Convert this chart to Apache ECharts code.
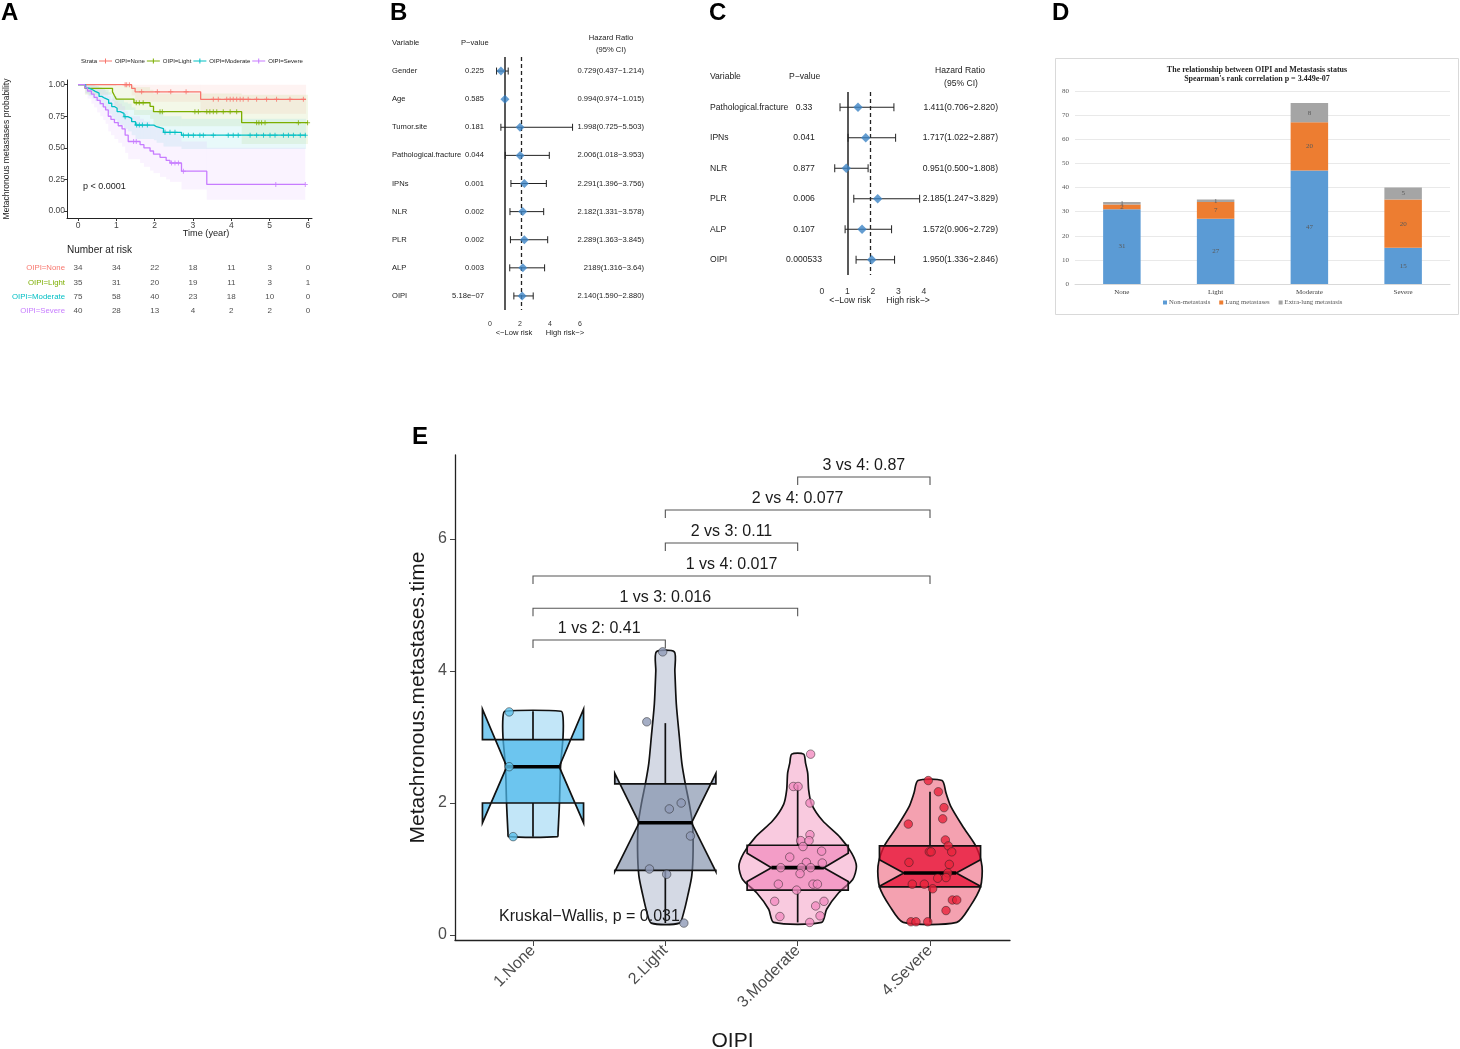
<!DOCTYPE html>
<html><head><meta charset="utf-8">
<script src="https://cdn.jsdelivr.net/npm/echarts@6/dist/echarts.min.js"></script>
<style>html,body{margin:0;padding:0;background:#fff}#c{width:1460px;height:1049px}</style>
</head><body><div id="c"></div>
<script>
// ================= DATA =================
// ---- Panel A: Kaplan-Meier ----
const strata = ['OIPI=None', 'OIPI=Light', 'OIPI=Moderate', 'OIPI=Severe'];
const kmNoneT = [0, 1.40, 1.49, 3.20, 5.95];
const kmNoneS = [1.00, 0.971, 0.943, 0.884, 0.884];
const kmNoneLo = [1.00, 0.915, 0.865, 0.77];
const kmNoneHi = [1.00, 1.00, 1.00, 1.00];
const kmNoneCens = [1.23, 1.27, 1.34, 1.66, 2.07, 2.42, 2.82, 3.53, 3.66, 3.88, 3.97, 4.05, 4.14, 4.23, 4.31, 4.44, 4.66, 4.92, 5.18, 5.53, 5.88];

const kmLightT = [0, 0.18, 0.90, 0.95, 1.00, 1.46, 1.88, 1.97, 4.27, 6.00];
const kmLightS = [1.00, 0.971, 0.943, 0.914, 0.886, 0.857, 0.829, 0.786, 0.699, 0.699];
const kmLightLo = [1.00, 0.92, 0.87, 0.83, 0.80, 0.76, 0.73, 0.67, 0.53];
const kmLightHi = [1.00, 1.00, 1.00, 1.00, 0.99, 0.98, 0.96, 0.93, 0.92];
const kmLightCens = [1.52, 1.60, 1.70, 2.14, 2.20, 3.05, 3.14, 3.36, 3.44, 3.53, 3.62, 3.79, 3.97, 4.14, 4.66, 4.72, 4.79, 4.88, 5.75, 5.99];

const kmModT = [0, 0.20, 0.28, 0.38, 0.45, 0.55, 0.62, 0.70, 0.80, 0.88, 0.95, 1.02, 1.10, 1.20, 1.30, 1.40, 1.50, 1.98, 2.05, 2.23, 2.70, 5.95];
const kmModS = [1.00, 0.973, 0.960, 0.947, 0.933, 0.907, 0.893, 0.880, 0.853, 0.827, 0.813, 0.787, 0.773, 0.747, 0.733, 0.707, 0.680, 0.667, 0.653, 0.623, 0.600, 0.600];
const kmModLo = [1.00, 0.93, 0.91, 0.89, 0.87, 0.84, 0.82, 0.80, 0.77, 0.74, 0.72, 0.69, 0.68, 0.65, 0.63, 0.60, 0.57, 0.56, 0.54, 0.51, 0.49];
const kmModHi = [1.00, 1.00, 1.00, 1.00, 0.99, 0.98, 0.97, 0.96, 0.94, 0.92, 0.91, 0.89, 0.88, 0.86, 0.85, 0.82, 0.80, 0.79, 0.78, 0.75, 0.73];
const kmModCens = [1.23, 1.53, 1.60, 1.68, 1.81, 2.27, 2.40, 2.53, 2.75, 2.88, 3.01, 3.18, 3.27, 3.53, 3.92, 4.05, 4.18, 4.49, 4.66, 4.84, 5.01, 5.14, 5.36, 5.49, 5.62, 5.80, 5.93];

const kmSevT = [0, 0.18, 0.25, 0.35, 0.42, 0.50, 0.58, 0.66, 0.72, 0.79, 0.86, 0.95, 1.05, 1.15, 1.23, 1.31, 1.62, 1.72, 1.88, 1.97, 2.14, 2.30, 2.40, 2.70, 3.36, 5.93];
const kmSevS = [1.00, 0.975, 0.950, 0.925, 0.900, 0.875, 0.850, 0.825, 0.800, 0.750, 0.725, 0.700, 0.675, 0.650, 0.600, 0.550, 0.525, 0.500, 0.475, 0.450, 0.425, 0.400, 0.380, 0.315, 0.210, 0.210];
const kmSevLo = [1.00, 0.93, 0.89, 0.85, 0.82, 0.78, 0.75, 0.72, 0.69, 0.63, 0.60, 0.57, 0.54, 0.51, 0.46, 0.41, 0.38, 0.35, 0.32, 0.30, 0.27, 0.25, 0.23, 0.17, 0.09];
const kmSevHi = [1.00, 1.00, 1.00, 1.00, 0.99, 0.98, 0.97, 0.96, 0.94, 0.91, 0.89, 0.87, 0.85, 0.83, 0.79, 0.75, 0.73, 0.71, 0.69, 0.67, 0.65, 0.63, 0.61, 0.55, 0.50];
const kmSevCens = [1.45, 1.52, 2.44, 2.53, 2.62, 2.75, 5.16, 5.93];

const kmTicksX = [0, 1, 2, 3, 4, 5, 6];
const kmTicksY = [0, 0.25, 0.5, 0.75, 1];

const riskTimes = [0, 1, 2, 3, 4, 5, 6];
const riskNone = [34, 34, 22, 18, 11, 3, 0];
const riskLight = [35, 31, 20, 19, 11, 3, 1];
const riskModerate = [75, 58, 40, 23, 18, 10, 0];
const riskSevere = [40, 28, 13, 4, 2, 2, 0];

// ---- Panel B: univariate forest ----
const bVars = ['Gender', 'Age', 'Tumor.site', 'Pathological.fracture', 'IPNs', 'NLR', 'PLR', 'ALP', 'OIPI'];
const bP = ['0.225', '0.585', '0.181', '0.044', '0.001', '0.002', '0.002', '0.003', '5.18e\u221207'];
const bHR = [0.729, 0.994, 1.998, 2.006, 2.291, 2.182, 2.289, 2.189, 2.140];
const bLo = [0.437, 0.974, 0.725, 1.018, 1.396, 1.331, 1.363, 1.316, 1.590];
const bHi = [1.214, 1.015, 5.503, 3.953, 3.756, 3.578, 3.845, 3.640, 2.880];
const bHRtext = ['0.729(0.437~1.214)', '0.994(0.974~1.015)', '1.998(0.725~5.503)', '2.006(1.018~3.953)', '2.291(1.396~3.756)', '2.182(1.331~3.578)', '2.289(1.363~3.845)', '2189(1.316~3.64)', '2.140(1.590~2.880)'];
const bTicks = [0, 2, 4, 6];
const bRef = 1, bMean = 2.1;

// ---- Panel C: multivariate forest ----
const cVars = ['Pathological.fracture', 'IPNs', 'NLR', 'PLR', 'ALP', 'OIPI'];
const cP = ['0.33', '0.041', '0.877', '0.006', '0.107', '0.000533'];
const cHR = [1.411, 1.717, 0.951, 2.185, 1.572, 1.950];
const cLo = [0.706, 1.022, 0.500, 1.247, 0.906, 1.336];
const cHi = [2.820, 2.887, 1.808, 3.829, 2.729, 2.846];
const cHRtext = ['1.411(0.706~2.820)', '1.717(1.022~2.887)', '0.951(0.500~1.808)', '2.185(1.247~3.829)', '1.572(0.906~2.729)', '1.950(1.336~2.846)'];
const cTicks = [0, 1, 2, 3, 4];
const cRef = 1, cMean = 1.88;

// ---- Panel D: stacked bars ----
const dCats = ['None', 'Light', 'Moderate', 'Severe'];
const dNon = [31, 27, 47, 15];
const dLung = [2, 7, 20, 20];
const dExtra = [1, 1, 8, 5];

// ---- Panel E: violin + notched box ----
const eCats = ['1.None', '2.Light', '3.Moderate', '4.Severe'];
const eTicksY = [0, 2, 4, 6];
// violin outline: levels (top->bottom) and half widths (x-axis units)
const vioY1 = [3.39, 3.30, 3.00, 2.55, 2.00, 1.70, 1.55, 1.49];
const vioW1 = [0.212, 0.227, 0.227, 0.208, 0.200, 0.193, 0.189, 0.185];
const vioY2 = [4.29, 4.00, 3.50, 3.00, 2.60, 2.30, 2.00, 1.70, 1.30, 0.90, 0.60, 0.35, 0.18];
const vioW2 = [0.068, 0.072, 0.083, 0.106, 0.125, 0.150, 0.180, 0.204, 0.210, 0.200, 0.170, 0.140, 0.106];
const vioY3 = [2.74, 2.60, 2.45, 2.20, 1.98, 1.73, 1.48, 1.24, 1.04, 0.84, 0.64, 0.39, 0.19];
const vioW3 = [0.045, 0.060, 0.076, 0.083, 0.106, 0.189, 0.321, 0.408, 0.444, 0.416, 0.310, 0.219, 0.181];
const vioY4 = [2.34, 2.15, 1.94, 1.64, 1.34, 1.04, 0.73, 0.43, 0.19];
const vioW4 = [0.091, 0.121, 0.159, 0.249, 0.348, 0.393, 0.382, 0.302, 0.202];
// box statistics
const boxQ1 = [2.00, 0.98, 0.68, 0.73];
const boxMed = [2.55, 1.70, 1.02, 0.94];
const boxQ3 = [2.96, 2.29, 1.36, 1.35];
const notchLo = [1.70, 0.96, 0.81, 0.74];
const notchHi = [3.42, 2.45, 1.24, 1.14];
const whiskLo = [1.49, 0.18, 0.19, 0.19];
const whiskHi = [3.39, 3.21, 2.27, 2.17];
// observations: jitter offset (x units) and value
const ptsJ1 = [-0.18, -0.18, -0.15];
const ptsV1 = [3.38, 2.55, 1.49];
const ptsJ2 = [-0.02, -0.14, 0.03, 0.12, 0.19, -0.12, 0.01, 0.14];
const ptsV2 = [4.29, 3.23, 1.91, 2.00, 1.50, 1.00, 0.92, 0.18];
const ptsJ3 = [0.098, -0.033, 0.003, 0.093, 0.093, 0.023, 0.086, 0.040, 0.181, -0.060, 0.066, 0.186, -0.128, 0.028, 0.098, 0.018, -0.146, 0.116, 0.149, -0.008, -0.174, 0.199, 0.136, -0.134, 0.169, 0.091];
const ptsV3 = [2.74, 2.25, 2.25, 2.00, 1.52, 1.43, 1.43, 1.34, 1.27, 1.18, 1.10, 1.09, 1.02, 1.02, 1.02, 0.93, 0.77, 0.77, 0.77, 0.68, 0.51, 0.51, 0.44, 0.28, 0.29, 0.19];
const ptsJ4 = [-0.013, 0.063, 0.106, 0.096, -0.164, 0.116, 0.138, -0.005, 0.008, 0.164, -0.159, 0.146, 0.134, 0.121, 0.058, -0.134, -0.043, 0.020, 0.169, 0.202, 0.121, -0.144, -0.106, -0.017];
const ptsV4 = [2.34, 2.17, 1.93, 1.76, 1.68, 1.44, 1.35, 1.26, 1.26, 1.26, 1.10, 1.07, 0.94, 0.87, 0.86, 0.77, 0.77, 0.70, 0.53, 0.53, 0.37, 0.20, 0.20, 0.20];
// pairwise comparisons
const cmpA = [1, 1, 1, 2, 2, 3];
const cmpB = [2, 3, 4, 3, 4, 4];
const cmpP = ['0.41', '0.016', '0.017', '0.11', '0.077', '0.87'];
const cmpY = [4.47, 4.95, 5.44, 5.94, 6.44, 6.94];

// ================= STYLE =================
const FONT = "'Liberation Sans', Arial, sans-serif";
const SERIF = "'Liberation Serif', 'Times New Roman', serif";
const KM_COL = ['#F8766D', '#7CAE00', '#00BFC4', '#C77CFF'];
const KM_BAND = ['rgba(248,118,109,0.09)', 'rgba(124,174,0,0.09)', 'rgba(0,191,196,0.09)', 'rgba(199,124,255,0.09)'];
const VIO_FILL = ['#C2E6F8', '#D4D9E4', '#F9CADF', '#F4A1B0'];
const BOX_FILL = ['rgba(75,185,235,0.72)', 'rgba(120,135,165,0.62)', 'rgba(238,120,178,0.55)', 'rgba(232,20,55,0.78)'];
const PT_FILL = ['#5BC0EB', '#8E9AB6', '#F28CC0', '#E8243C'];
const BOX_HW = 0.382, NOTCH_HW = 0.198, CMP_TICK = 0.12;
const PLUS = 'path://M-0.8,-4H0.8V-0.8H4V0.8H0.8V4H-0.8V0.8H-4V-0.8H-0.8Z';
const LEG_ICON = 'path://M0,2.5H13V3.5H0Z M6,0.5H7V5.5H6Z M4.5,2.5H8.5V3.5H4.5Z';
const FB = 7.6, FC = 8.6;

const km = [
  {T: kmNoneT, S: kmNoneS, lo: kmNoneLo, hi: kmNoneHi, c: kmNoneCens},
  {T: kmLightT, S: kmLightS, lo: kmLightLo, hi: kmLightHi, c: kmLightCens},
  {T: kmModT, S: kmModS, lo: kmModLo, hi: kmModHi, c: kmModCens},
  {T: kmSevT, S: kmSevS, lo: kmSevLo, hi: kmSevHi, c: kmSevCens}
];
const risk = [riskNone, riskLight, riskModerate, riskSevere];
const vioY = [vioY1, vioY2, vioY3, vioY4];
const vioW = [vioW1, vioW2, vioW3, vioW4];
const ptsJ = [ptsJ1, ptsJ2, ptsJ3, ptsJ4];
const ptsV = [ptsV1, ptsV2, ptsV3, ptsV4];

function stepAt(T, S, t) { let v = S[0]; for (let i = 0; i < T.length; i++) if (T[i] <= t) v = S[i]; return v; }

const series = [];
// ---- A: bands, curves, censors ----
km.forEach((d, k) => {
  const bandData = [];
  for (let i = 0; i < d.T.length - 1; i++) bandData.push([d.T[i], d.T[i + 1], d.lo[i], d.hi[i]]);
  series.push({
    type: 'custom', name: 'band' + k, xAxisIndex: 0, yAxisIndex: 0, z: 1, silent: true,
    encode: {x: [0, 1], y: [2, 3]}, data: bandData,
    renderItem: (params, api) => {
      const p0 = api.coord([api.value(0), api.value(3)]);
      const p1 = api.coord([api.value(1), api.value(2)]);
      return {type: 'rect', shape: {x: p0[0], y: p0[1], width: p1[0] - p0[0], height: p1[1] - p0[1]}, style: {fill: KM_BAND[k]}};
    }
  });
});
km.forEach((d, k) => {
  series.push({
    type: 'line', name: strata[k], xAxisIndex: 0, yAxisIndex: 0, step: 'end', symbol: 'none', z: 3,
    data: d.T.map((t, i) => [t, d.S[i]]),
    lineStyle: {color: KM_COL[k], width: 1.3}, itemStyle: {color: KM_COL[k]}
  });
  series.push({
    type: 'scatter', name: 'cens' + k, xAxisIndex: 0, yAxisIndex: 0, symbol: PLUS, symbolSize: 5, z: 4,
    data: d.c.map(t => [t, stepAt(d.T, d.S, t)]), itemStyle: {color: KM_COL[k]}
  });
});
// ---- A: risk table ----
risk.forEach((r, k) => {
  series.push({
    type: 'scatter', name: 'risk' + k, xAxisIndex: 1, yAxisIndex: 1, symbolSize: 2,
    itemStyle: {color: 'transparent'},
    data: riskTimes.map((t, j) => [t, k, r[j]]),
    label: {show: true, position: 'inside', formatter: p => p.value[2], color: '#222', fontSize: 8, fontFamily: FONT}
  });
});

// ---- Forest ----
function forestSeries(xi, yi, hr, lo, hi, ref, mean, dsize, cap) {
  series.push({
    type: 'custom', name: 'ci' + xi, xAxisIndex: xi, yAxisIndex: yi, z: 3, silent: true,
    encode: {x: [0, 1], y: 2}, data: lo.map((l, i) => [l, hi[i], i]),
    renderItem: (params, api) => {
      const a = api.coord([api.value(0), api.value(2)]);
      const b = api.coord([api.value(1), api.value(2)]);
      const st = {stroke: '#222', lineWidth: 1};
      return {type: 'group', children: [
        {type: 'line', shape: {x1: a[0], y1: a[1], x2: b[0], y2: b[1]}, style: st},
        {type: 'line', shape: {x1: a[0], y1: a[1] - cap, x2: a[0], y2: a[1] + cap}, style: st},
        {type: 'line', shape: {x1: b[0], y1: b[1] - cap, x2: b[0], y2: b[1] + cap}, style: st}
      ]};
    }
  });
  series.push({
    type: 'scatter', name: 'hr' + xi, xAxisIndex: xi, yAxisIndex: yi, symbol: 'diamond', symbolSize: dsize, z: 5,
    itemStyle: {color: '#3D84C6'}, data: hr.map((h, i) => [h, i]),
    markLine: {silent: true, symbol: 'none', label: {show: false}, animation: false,
      data: [
        {xAxis: ref, lineStyle: {type: 'solid', color: '#222', width: 1.5}},
        {xAxis: mean, lineStyle: {type: [4, 3], color: '#222', width: 1.3}}
      ]}
  });
}
forestSeries(2, 2, bHR, bLo, bHi, bRef, bMean, 9, 3.5);
forestSeries(4, 3, cHR, cLo, cHi, cRef, cMean, 9.5, 4);

// ---- D: bars ----
const dLabel = {show: true, position: 'inside', color: '#595959', fontSize: 7, fontFamily: SERIF};
[['Non-metastasis', dNon, '#5B9BD5'], ['Lung metastases', dLung, '#ED7D31'], ['Extra-lung metastasis', dExtra, '#A5A5A5']].forEach(([n, v, c]) => {
  series.push({type: 'bar', name: n, xAxisIndex: 5, yAxisIndex: 4, stack: 'd', barWidth: '40%', data: v, itemStyle: {color: c}, label: dLabel});
});

// ---- E: violins + boxes ----
series.push({
  type: 'custom', name: 'violin', xAxisIndex: 6, yAxisIndex: 5, z: 2, silent: true,
  encode: {x: 0, y: 1}, data: eCats.map((c, g) => [g + 1, boxMed[g]]),
  renderItem: (params, api) => {
    const g = params.dataIndex, cx = g + 1;
    const Y = vioY[g], W = vioW[g];
    const pts = [];
    for (let i = 0; i < Y.length; i++) pts.push(api.coord([cx - W[i], Y[i]]));
    for (let i = Y.length - 1; i >= 0; i--) pts.push(api.coord([cx + W[i], Y[i]]));
    const C = v => api.coord(v);
    const q1 = boxQ1[g], md = boxMed[g], q3 = boxQ3[g], nl = notchLo[g], nu = notchHi[g];
    const L = cx - BOX_HW, R = cx + BOX_HW, nL = cx - NOTCH_HW, nR = cx + NOTCH_HW;
    const box = [C([L, q3]), C([L, nu]), C([nL, md]), C([L, nl]), C([L, q1]), C([R, q1]), C([R, nl]), C([nR, md]), C([R, nu]), C([R, q3])];
    const ln = {stroke: '#111', lineWidth: 1.7, fill: null};
    const a = C([nL, md]), b = C([nR, md]);
    const w1 = C([cx, q3]), w2 = C([cx, whiskHi[g]]), w3 = C([cx, q1]), w4 = C([cx, whiskLo[g]]);
    return {type: 'group', children: [
      {type: 'polygon', shape: {points: pts, smooth: 0.25}, style: {fill: VIO_FILL[g], stroke: '#111', lineWidth: 1.7}},
      {type: 'polygon', shape: {points: box}, style: {fill: BOX_FILL[g], stroke: '#111', lineWidth: 1.7, lineJoin: 'miter'}},
      {type: 'line', shape: {x1: w1[0], y1: w1[1], x2: w2[0], y2: w2[1]}, style: ln},
      {type: 'line', shape: {x1: w3[0], y1: w3[1], x2: w4[0], y2: w4[1]}, style: ln},
      {type: 'line', shape: {x1: a[0], y1: a[1], x2: b[0], y2: b[1]}, style: {stroke: '#000', lineWidth: 3.6}}
    ]};
  }
});
ptsV.forEach((vals, g) => {
  series.push({
    type: 'scatter', name: 'pts' + g, xAxisIndex: 6, yAxisIndex: 5, symbolSize: 8.5, z: 4,
    itemStyle: {color: PT_FILL[g], borderColor: 'rgba(30,30,30,0.75)', borderWidth: 0.8},
    data: vals.map((v, i) => [g + 1 + ptsJ[g][i], v])
  });
});
series.push({
  type: 'custom', name: 'cmp', xAxisIndex: 6, yAxisIndex: 5, z: 6, silent: true,
  encode: {x: [0, 1], y: 2}, data: cmpA.map((a, i) => [a, cmpB[i], cmpY[i]]),
  renderItem: (params, api) => {
    const i = params.dataIndex;
    const p1 = api.coord([api.value(0), api.value(2)]);
    const p2 = api.coord([api.value(1), api.value(2)]);
    const t = api.coord([api.value(0), api.value(2) - CMP_TICK]);
    return {type: 'group', children: [
      {type: 'polyline', shape: {points: [[p1[0], t[1]], p1, p2, [p2[0], t[1]]]}, style: {stroke: '#555', lineWidth: 1.1, fill: null}},
      {type: 'text', x: (p1[0] + p2[0]) / 2, y: p1[1] - 3, style: {text: cmpA[i] + ' vs ' + cmpB[i] + ': ' + cmpP[i], align: 'center', verticalAlign: 'bottom', fontSize: 16, fontFamily: FONT, fill: '#1a1a1a'}}
    ]};
  }
});

// ================= AXES =================
const noSplit = {show: false};
const xAxis = [
  {gridIndex: 0, type: 'value', min: -0.287, max: 6.105, splitLine: noSplit,
   axisLine: {onZero: false, lineStyle: {color: '#222', width: 1}},
   axisTick: {customValues: kmTicksX, length: 3, lineStyle: {color: '#333'}},
   axisLabel: {customValues: kmTicksX, fontSize: 8.5, color: '#444', margin: 3}},
  {gridIndex: 1, type: 'value', min: -0.287, max: 6.105, show: false},
  {gridIndex: 2, type: 'value', min: -6.667, max: 10.333, splitLine: noSplit,
   axisLine: {onZero: false, lineStyle: {color: '#333', width: 1.4}},
   axisTick: {customValues: bTicks, length: 5, lineStyle: {color: '#333'}},
   axisLabel: {customValues: bTicks, fontSize: 7, color: '#333', margin: 11}},
  {gridIndex: 2, type: 'value', position: 'top', min: -6.667, max: 10.333, splitLine: noSplit,
   axisLine: {onZero: false, lineStyle: {color: '#333', width: 1.4}}, axisTick: {show: false}, axisLabel: {show: false}},
  {gridIndex: 3, type: 'value', min: -4.392, max: 6.902, splitLine: noSplit,
   axisLine: {onZero: false, lineStyle: {color: '#333', width: 1.4}},
   axisTick: {customValues: cTicks, length: 6, lineStyle: {color: '#333'}},
   axisLabel: {customValues: cTicks, fontSize: FC, color: '#333', margin: 12}},
  {gridIndex: 4, type: 'category', data: dCats,
   axisLine: {lineStyle: {color: '#D9D9D9'}}, axisTick: {show: false},
   axisLabel: {fontFamily: SERIF, fontSize: 7, color: '#404040', margin: 5}},
  {gridIndex: 5, type: 'value', min: 0.4106, max: 4.6045, splitLine: noSplit,
   axisLine: {onZero: false, lineStyle: {color: '#222', width: 1.3}},
   axisTick: {customValues: [1, 2, 3, 4], length: 6, lineStyle: {color: '#444'}},
   axisLabel: {customValues: [1, 2, 3, 4], formatter: v => eCats[Math.round(v) - 1], rotate: 45, fontSize: 16, color: '#4d4d4d', margin: 8},
   name: 'OIPI', nameLocation: 'middle', nameGap: 91, nameTextStyle: {fontSize: 21, color: '#1a1a1a'}},
  {gridIndex: 3, type: 'value', position: 'top', min: -4.392, max: 6.902, splitLine: noSplit,
   axisLine: {onZero: false, lineStyle: {color: '#333', width: 1.4}}, axisTick: {show: false}, axisLabel: {show: false}}
];
const yAxis = [
  {gridIndex: 0, type: 'value', min: -0.0554, max: 1.037, splitLine: noSplit,
   axisLine: {show: true, onZero: false, lineStyle: {color: '#222', width: 1}},
   axisTick: {show: true, customValues: kmTicksY, length: 3, lineStyle: {color: '#333'}},
   axisLabel: {customValues: kmTicksY, formatter: v => v.toFixed(2), fontSize: 8.5, color: '#444', margin: 2}},
  {gridIndex: 1, type: 'category', data: strata, inverse: true,
   axisLine: {show: false}, axisTick: {show: false},
   axisLabel: {interval: 0, fontSize: 7.8, margin: 2, color: (v, i) => KM_COL[i]}},
  {gridIndex: 2, type: 'category', data: bVars, inverse: true,
   axisLine: {show: false}, axisTick: {show: false},
   axisLabel: {interval: 0, inside: true, margin: 2, fontSize: FB, color: '#222', align: 'left',
     formatter: (v, i) => '{v|' + bVars[i] + '}{p|' + bP[i] + '}{h|' + bHRtext[i] + '}',
     rich: {v: {width: 70, align: 'left'}, p: {width: 22, align: 'right'}, h: {width: 160, align: 'right'}}}},
  {gridIndex: 3, type: 'category', data: cVars, inverse: true,
   axisLine: {show: false}, axisTick: {show: false},
   axisLabel: {interval: 0, inside: true, margin: 0, fontSize: FC, color: '#222', align: 'left',
     formatter: (v, i) => '{v|' + cVars[i] + '}{p|' + cP[i] + '}{h|' + cHRtext[i] + '}',
     rich: {v: {width: 80, align: 'left'}, p: {width: 28, align: 'center'}, h: {width: 180, align: 'right'}}}},
  {gridIndex: 4, type: 'value', min: 0, max: 80, interval: 10,
   axisLine: {show: false}, axisTick: {show: false},
   axisLabel: {fontFamily: SERIF, fontSize: 7, color: '#595959', margin: 6},
   splitLine: {lineStyle: {color: '#E3E3E3', width: 0.8}}},
  {gridIndex: 5, type: 'value', min: -0.076, max: 7.273, splitLine: noSplit,
   axisLine: {show: true, onZero: false, lineStyle: {color: '#222', width: 1.3}},
   axisTick: {show: true, customValues: eTicksY, length: 5, lineStyle: {color: '#444'}},
   axisLabel: {customValues: eTicksY, fontSize: 16, color: '#4d4d4d', margin: 8},
   name: 'Metachronous.metastases.time', nameLocation: 'middle', nameGap: 26, nameTextStyle: {fontSize: 21, color: '#1a1a1a'}}
];

// ================= GRAPHIC =================
function txt(x, y, text, size, opt) {
  return Object.assign({type: 'text', x, y, z: 100, silent: true,
    style: Object.assign({text, fontSize: size, fontFamily: FONT, fill: '#222', align: 'left', verticalAlign: 'middle'}, (opt && opt.style) || {})},
    (opt && opt.el) || {});
}
const graphic = [
  txt(1, 1, 'A', 24, {style: {fontWeight: 'bold', verticalAlign: 'top', fill: '#000'}}),
  txt(390, 1, 'B', 24, {style: {fontWeight: 'bold', verticalAlign: 'top', fill: '#000'}}),
  txt(709, 1, 'C', 24, {style: {fontWeight: 'bold', verticalAlign: 'top', fill: '#000'}}),
  txt(1052, 1, 'D', 24, {style: {fontWeight: 'bold', verticalAlign: 'top', fill: '#000'}}),
  txt(412, 425, 'E', 24, {style: {fontWeight: 'bold', verticalAlign: 'top', fill: '#000'}}),
  // A
  txt(81, 61, 'Strata', 6),
  txt(7, 149, 'Metachronous metastases probability', 8.5, {style: {align: 'center'}, el: {rotation: Math.PI / 2}}),
  txt(206, 233, 'Time (year)', 9.2, {style: {align: 'center'}}),
  txt(83, 187, 'p < 0.0001', 9),
  txt(67, 250, 'Number at risk', 10),
  // B
  txt(392, 43, 'Variable', FB), txt(461, 43, 'P\u2212value', FB),
  txt(611, 38, 'Hazard Ratio', FB, {style: {align: 'center'}}),
  txt(611, 50, '(95% CI)', FB, {style: {align: 'center'}}),
  txt(514, 333, '<\u2212Low risk', FB, {style: {align: 'center'}}),
  txt(565, 333, 'High risk\u2212>', FB, {style: {align: 'center'}}),
  // C
  txt(710, 77, 'Variable', FC), txt(789, 77, 'P\u2212value', FC),
  txt(960, 71, 'Hazard Ratio', FC, {style: {align: 'center'}}),
  txt(961, 84, '(95% CI)', FC, {style: {align: 'center'}}),
  txt(850, 301, '<\u2212Low risk', FC, {style: {align: 'center'}}),
  txt(908, 301, 'High risk\u2212>', FC, {style: {align: 'center'}}),
  // D
  {type: 'rect', silent: true, z: 100, shape: {x: 1055.5, y: 58.5, width: 403, height: 256}, style: {fill: null, stroke: '#D9D9D9', lineWidth: 1}},
  txt(1257, 70, 'The relationship between OIPI and Metastasis status', 8, {style: {align: 'center', fontFamily: SERIF, fontWeight: 'bold', fill: '#262626'}}),
  txt(1257, 78.5, "Spearman's rank correlation p = 3.449e-07", 8, {style: {align: 'center', fontFamily: SERIF, fontWeight: 'bold', fill: '#262626'}}),
  // E
  txt(499, 917, 'Kruskal\u2212Wallis, p = 0.031', 16, {style: {fill: '#1a1a1a'}})
];

// ================= OPTION =================
const G = o => Object.assign({outerBoundsMode: 'none', containLabel: false}, o);
const option = {
  animation: false,
  backgroundColor: '#fff',
  textStyle: {fontFamily: FONT},
  grid: [
    G({left: 67, top: 80, width: 245, height: 138}),
    G({left: 67, top: 261, width: 245, height: 57}),
    G({left: 390, top: 57, width: 255, height: 253}),
    G({left: 710, top: 92, width: 288, height: 183}),
    G({left: 1075, top: 91, width: 375, height: 193}),
    G({left: 455, top: 455, width: 555, height: 485})
  ],
  legend: [
    {left: 99, top: 58, itemWidth: 13, itemHeight: 6, itemGap: 2, padding: 0, selectedMode: false, icon: LEG_ICON,
     textStyle: {fontSize: 6, color: '#222', fontFamily: FONT, padding: [0, 0, 0, -2]}, data: strata},
    {left: 1163, top: 299, itemWidth: 4, itemHeight: 4, itemGap: 9, padding: 0, icon: 'rect', selectedMode: false,
     textStyle: {fontSize: 6.7, color: '#595959', fontFamily: SERIF, padding: [0, 0, 0, -3]},
     data: ['Non-metastasis', 'Lung metastases', 'Extra-lung metastasis']}
  ],
  xAxis, yAxis, series, graphic
};
const chart = echarts.init(document.getElementById('c'), null, {renderer: 'canvas', width: 1460, height: 1049});
chart.setOption(option);
</script>
</body></html>
